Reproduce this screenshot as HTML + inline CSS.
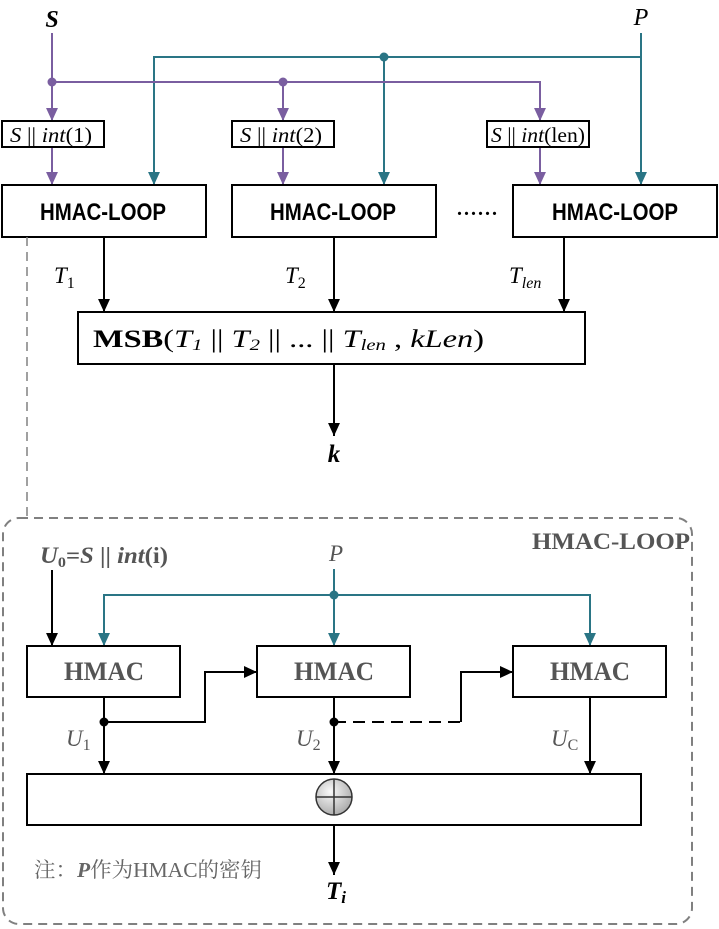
<!DOCTYPE html>
<html><head><meta charset="utf-8"><style>
html,body{margin:0;padding:0;background:#fff;}
svg{display:block;}
text{font-family:"Liberation Serif","Noto Serif CJK SC",serif;}
.sans{font-family:"Liberation Sans Narrow","Liberation Sans",sans-serif;font-weight:bold;}
</style></head><body>
<svg width="719" height="929" viewBox="0 0 719 929" xmlns="http://www.w3.org/2000/svg">
<defs>
<marker id="ap" markerWidth="13" markerHeight="12" refX="12" refY="5.5" orient="auto" markerUnits="userSpaceOnUse" viewBox="0 0 12 11"><path d="M0,0 L12,5.5 L0,11 Z" fill="#7a5ea0"/></marker>
<marker id="at" markerWidth="13" markerHeight="12" refX="12" refY="5.5" orient="auto" markerUnits="userSpaceOnUse" viewBox="0 0 12 11"><path d="M0,0 L12,5.5 L0,11 Z" fill="#2a7585"/></marker>
<marker id="ak" markerWidth="13" markerHeight="12" refX="12" refY="5.5" orient="auto" markerUnits="userSpaceOnUse" viewBox="0 0 12 11"><path d="M0,0 L12,5.5 L0,11 Z" fill="#000"/></marker>
<radialGradient id="xg" cx="0.4" cy="0.35" r="0.7"><stop offset="0" stop-color="#fafafa"/><stop offset="1" stop-color="#a8a8a8"/></radialGradient>
</defs>

<text x="52" y="27" font-size="24" font-weight="bold" font-style="italic" text-anchor="middle">S</text>
<text x="641" y="25" font-size="24" font-style="italic" text-anchor="middle">P</text>

<g stroke="#2a7585" stroke-width="2" fill="none">
<line x1="641" y1="33" x2="641" y2="185" marker-end="url(#at)"/>
<polyline points="641,57 154,57 154,185" marker-end="url(#at)"/>
<line x1="384" y1="57" x2="384" y2="185" marker-end="url(#at)"/>
</g>
<circle cx="384" cy="57" r="4.5" fill="#2a7585"/>

<g stroke="#7a5ea0" stroke-width="2" fill="none">
<line x1="52" y1="33" x2="52" y2="121" marker-end="url(#ap)"/>
<polyline points="52,82 540,82 540,121" marker-end="url(#ap)"/>
<line x1="283" y1="82" x2="283" y2="121" marker-end="url(#ap)"/>
<line x1="52" y1="146" x2="52" y2="185" marker-end="url(#ap)"/>
<line x1="283" y1="146" x2="283" y2="185" marker-end="url(#ap)"/>
<line x1="540" y1="146" x2="540" y2="185" marker-end="url(#ap)"/>
</g>
<circle cx="52" cy="82" r="4.5" fill="#7a5ea0"/>
<circle cx="283" cy="82" r="4.5" fill="#7a5ea0"/>

<g fill="#fff" stroke="#000" stroke-width="2">
<rect x="2" y="121" width="102" height="26"/>
<rect x="232" y="121" width="102" height="26"/>
<rect x="487" y="121" width="102" height="26"/>
</g>
<g font-size="21">
<text x="10" y="142" textLength="82" lengthAdjust="spacingAndGlyphs"><tspan font-style="italic">S</tspan> || <tspan font-style="italic">int</tspan>(1)</text>
<text x="240" y="142" textLength="82" lengthAdjust="spacingAndGlyphs"><tspan font-style="italic">S</tspan> || <tspan font-style="italic">int</tspan>(2)</text>
<text x="491" y="142" textLength="94" lengthAdjust="spacingAndGlyphs"><tspan font-style="italic">S</tspan> || <tspan font-style="italic">int</tspan>(len)</text>
</g>

<g fill="#fff" stroke="#000" stroke-width="2">
<rect x="2" y="185" width="204" height="52"/>
<rect x="232" y="185" width="204" height="52"/>
<rect x="513" y="185" width="204" height="52"/>
</g>
<g font-size="24">
<text x="40" y="220" class="sans" textLength="126" lengthAdjust="spacingAndGlyphs">HMAC-LOOP</text>
<text x="270" y="220" class="sans" textLength="126" lengthAdjust="spacingAndGlyphs">HMAC-LOOP</text>
<text x="552" y="220" class="sans" textLength="126" lengthAdjust="spacingAndGlyphs">HMAC-LOOP</text>
</g>
<text x="457" y="215" font-size="20" font-weight="bold" textLength="40" lengthAdjust="spacing">......</text>

<g stroke="#000" stroke-width="2">
<line x1="104" y1="237" x2="104" y2="312" marker-end="url(#ak)"/>
<line x1="334" y1="237" x2="334" y2="312" marker-end="url(#ak)"/>
<line x1="564" y1="237" x2="564" y2="312" marker-end="url(#ak)"/>
</g>
<text x="54" y="283" font-size="23" font-style="italic">T<tspan font-size="16" font-style="normal" dy="5">1</tspan></text>
<text x="285" y="283" font-size="23" font-style="italic">T<tspan font-size="16" font-style="normal" dy="5">2</tspan></text>
<text x="509" y="283" font-size="23" font-style="italic">T<tspan font-size="16" dy="5">len</tspan></text>

<rect x="78" y="312" width="507" height="52" fill="#fff" stroke="#000" stroke-width="2"/>
<text x="93" y="347" font-size="25" textLength="391" lengthAdjust="spacingAndGlyphs"><tspan font-weight="bold">MSB</tspan>(<tspan font-style="italic">T<tspan font-size="16" dy="3">1</tspan></tspan><tspan dy="-3"> || </tspan><tspan font-style="italic">T<tspan font-size="16" dy="3">2</tspan></tspan><tspan dy="-3"> || ... || </tspan><tspan font-style="italic">T<tspan font-size="16" dy="3">len</tspan></tspan><tspan dy="-3"> , </tspan><tspan font-style="italic">kLen</tspan>)</text>
<line x1="334" y1="364" x2="334" y2="436" stroke="#000" stroke-width="2" marker-end="url(#ak)"/>
<text x="334" y="462" font-size="25" font-weight="bold" font-style="italic" text-anchor="middle">k</text>

<line x1="27" y1="237" x2="27" y2="518" stroke="#808080" stroke-width="1.5" stroke-dasharray="9,6"/>
<rect x="3" y="518" width="689" height="406" rx="16" fill="none" stroke="#808080" stroke-width="2" stroke-dasharray="9,6"/>
<text x="532" y="549" font-size="23" font-weight="bold" fill="#555" textLength="158" lengthAdjust="spacingAndGlyphs">HMAC-LOOP</text>

<text x="40" y="563" font-size="23" font-weight="bold" font-style="italic" fill="#555" textLength="128" lengthAdjust="spacingAndGlyphs">U<tspan font-size="15" font-style="normal" dy="4">0</tspan><tspan dy="-4" font-style="normal">=</tspan>S<tspan font-style="normal"> || </tspan>int<tspan font-style="normal">(i)</tspan></text>
<text x="336" y="561" font-size="23" font-style="italic" fill="#555" text-anchor="middle">P</text>
<line x1="52" y1="570" x2="52" y2="646" stroke="#000" stroke-width="2" marker-end="url(#ak)"/>
<g stroke="#2a7585" stroke-width="2" fill="none">
<line x1="334" y1="569" x2="334" y2="646" marker-end="url(#at)"/>
<polyline points="104,646 104,595 590,595 590,646"/>
<line x1="104" y1="600" x2="104" y2="646" marker-end="url(#at)"/>
<line x1="590" y1="600" x2="590" y2="646" marker-end="url(#at)"/>
</g>
<circle cx="334" cy="595" r="4.5" fill="#2a7585"/>

<g fill="#fff" stroke="#000" stroke-width="2">
<rect x="27" y="646" width="153" height="51"/>
<rect x="257" y="646" width="153" height="51"/>
<rect x="513" y="646" width="153" height="51"/>
</g>
<g font-size="26" font-weight="bold" fill="#555">
<text x="64" y="680" textLength="80" lengthAdjust="spacingAndGlyphs">HMAC</text>
<text x="294" y="680" textLength="80" lengthAdjust="spacingAndGlyphs">HMAC</text>
<text x="550" y="680" textLength="80" lengthAdjust="spacingAndGlyphs">HMAC</text>
</g>

<g stroke="#000" stroke-width="2" fill="none">
<line x1="104" y1="697" x2="104" y2="774" marker-end="url(#ak)"/>
<line x1="334" y1="697" x2="334" y2="774" marker-end="url(#ak)"/>
<line x1="590" y1="697" x2="590" y2="774" marker-end="url(#ak)"/>
<polyline points="104,722 205,722 205,672 257,672" marker-end="url(#ak)"/>
<polyline points="334,722 461,722" stroke-dasharray="12,7"/>
<polyline points="461,722 461,672 513,672" marker-end="url(#ak)"/>
</g>
<circle cx="104" cy="722" r="4.5" fill="#000"/>
<circle cx="334" cy="722" r="4.5" fill="#000"/>
<text x="66" y="746" font-size="23" font-style="italic" fill="#555">U<tspan font-size="16" font-style="normal" dy="4">1</tspan></text>
<text x="296" y="746" font-size="23" font-style="italic" fill="#555">U<tspan font-size="16" font-style="normal" dy="4">2</tspan></text>
<text x="551" y="746" font-size="23" font-style="italic" fill="#555">U<tspan font-size="16" font-style="normal" dy="4">C</tspan></text>

<rect x="27" y="774" width="614" height="51" fill="#fff" stroke="#000" stroke-width="2"/>
<ellipse cx="334" cy="797" rx="18" ry="18" fill="url(#xg)" stroke="#333" stroke-width="1.5"/>
<line x1="316" y1="797" x2="352" y2="797" stroke="#333" stroke-width="1.5"/>
<line x1="334" y1="779" x2="334" y2="815" stroke="#333" stroke-width="1.5"/>
<line x1="334" y1="825" x2="334" y2="875" stroke="#000" stroke-width="2" marker-end="url(#ak)"/>
<text x="336" y="899" font-size="25" font-weight="bold" font-style="italic" text-anchor="middle">T<tspan font-size="17" dy="4">i</tspan></text>
<text x="34" y="877" font-size="21" fill="#666" textLength="228" lengthAdjust="spacingAndGlyphs">注：<tspan font-weight="bold" font-style="italic">P</tspan>作为HMAC的密钥</text>
</svg>
</body></html>
